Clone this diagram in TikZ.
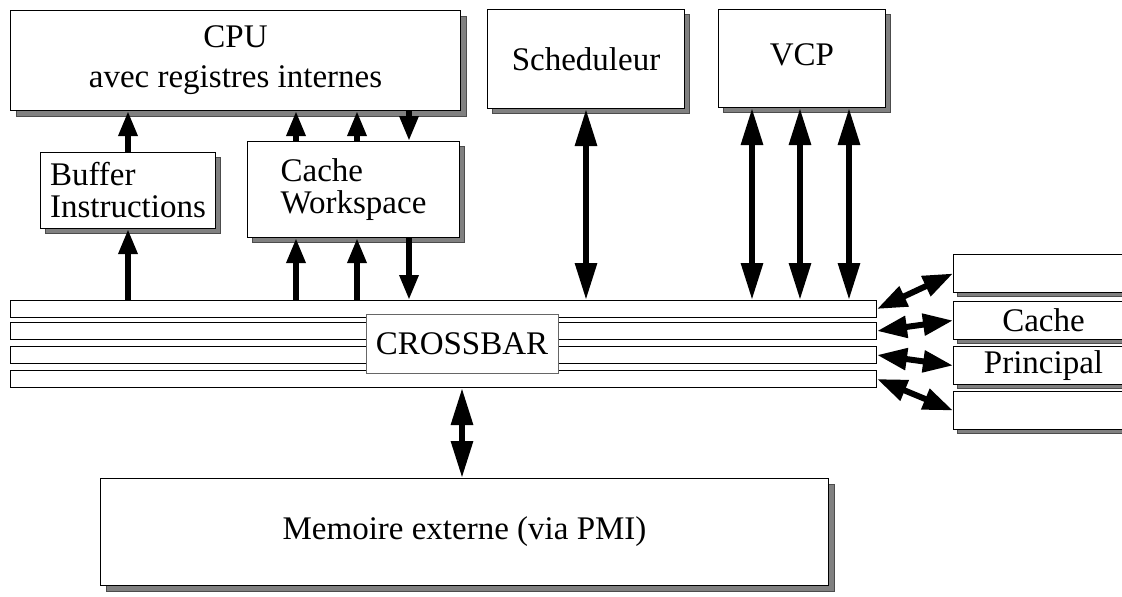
\documentclass[tikz,border=0pt]{standalone}
\usepackage{fontspec}
\setmainfont{Liberation Serif}
\usetikzlibrary{arrows.meta,shadows}
\tikzset{
	box/.style={draw,fill=white,line width=1pt,inner sep=0pt,anchor=north west},
	shadowed/.style={drop shadow={shadow xshift=#1,shadow yshift=-#1,fill=black!50,draw=black!70,opacity=1}},
	shadowed/.default=5pt,
	bar/.style={draw,fill=white,line width=1pt,inner sep=0pt,anchor=north west,minimum width=866pt,minimum height=17pt},
	uparrow/.style={line width=6pt,-{Triangle[length=25pt,width=18pt]}},
	bothways/.style={line width=6pt,{Triangle[length=37pt,width=21pt]}-{Triangle[length=37pt,width=21pt]}},
	sideways/.style={line width=6pt,{Triangle[length=30pt,width=21pt]}-{Triangle[length=30pt,width=21pt]}},
}
\newcommand{\tightfont}{\fontsize{33}{32}\selectfont}
\begin{document}
\begin{tikzpicture}[x=1pt,y=-1pt,font=\fontsize{33}{40}\selectfont]
			\useasboundingbox (0,0) rectangle (1122,597);
			\clip (0,0) rectangle (1122,597);
			\foreach \n/\x in {xa/296,xb/357,xc/409,va/752,vb/800,vc/849}
				\coordinate (\n) at (\x,0);
			% boxes
			\node [box,shadowed=6pt,minimum width=450pt,minimum height=100pt,align=center] (cpu) at (10,10) {CPU\\avec registres internes};
			\node [box,shadowed,minimum width=175pt,minimum height=76pt,align=left,font=\tightfont] (buf) at (40,152) {Buffer\\Instructions};
			\node [box,shadowed,minimum width=212pt,minimum height=96pt,align=left,font=\tightfont] (cache) at (247,141) {Cache\\Workspace};
			\node [box,shadowed,minimum width=197pt,minimum height=99pt] (sched) at (487,9) {Scheduleur};
			\node [box,shadowed,minimum width=167pt,minimum height=98pt,text depth=8pt] (vcp) at (718,9) {VCP};
			\node [box,shadowed=6pt,minimum width=728pt,minimum height=107pt] (mem) at (100,478) {Memoire externe (via PMI)};
			% crossbar
			\foreach \i/\y in {1/300,2/322,3/346,4/370}
				\node [bar] (bar\i) at (10,\y) {};
			\node [draw=black!60,fill=white,line width=1pt,inner sep=0pt,minimum width=192pt,minimum height=59pt] (xbar) at (462,343.5) {CROSSBAR};
			% cache principal
			\foreach \i/\y/\t in {1/254/{},2/301/Cache,3/346/Principal,4/391/{}}
				\node [box,shadowed=4pt,minimum width=180pt,minimum height=38pt] (mp\i) at (953,\y) {\t};
			% connections
			\draw [uparrow] (buf.north) -- (cpu.south -| buf.north);
			\draw [uparrow] (bar1.north -| buf.south) -- (buf.south);
			\foreach \c in {xa,xb} {
				\draw [uparrow] (cache.north -| \c) -- (cpu.south -| \c);
				\draw [uparrow] (bar1.north -| \c) -- (cache.south -| \c);
			}
			\draw [uparrow] (cpu.south -| xc) -- (cache.north -| xc);
			\draw [uparrow] (cache.south -| xc) -- (bar1.north -| xc);
			\draw [bothways] (sched.south) -- (bar1.north -| sched.south);
			\foreach \c in {va,vb,vc}
				\draw [bothways] (vcp.south -| \c) -- (bar1.north -| \c);
			\draw [bothways] (bar4.south -| xbar.south) -- (mem.north -| xbar.south);
			\foreach \i in {1,...,4}
				\draw [sideways] (bar\i.east) -- (mp\i.west);
		\end{tikzpicture}
\end{document}
